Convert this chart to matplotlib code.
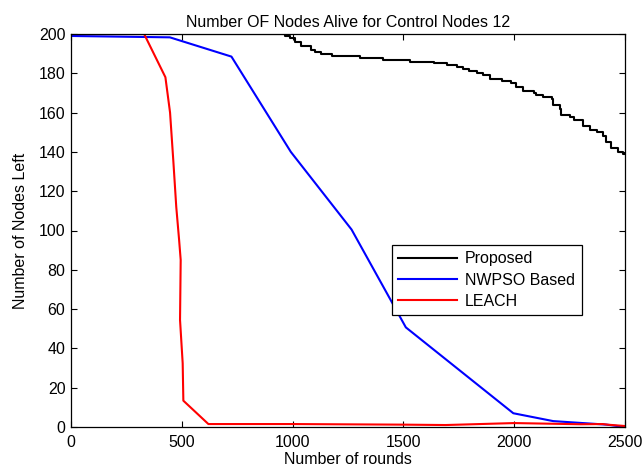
import matplotlib
matplotlib.use("Agg")
import matplotlib.pyplot as plt

plt.rcParams['font.family'] = ['Liberation Sans', 'DejaVu Sans']

# Proposed (staircase)
prop_x = [0, 965, 990, 1010, 1040, 1085, 1100, 1130, 1180, 1305, 1410, 1530, 1640, 1695,
          1740, 1770, 1795, 1830, 1860, 1890, 1945, 1985, 2010, 2040, 2090, 2100, 2130,
          2170, 2175, 2205, 2212, 2250, 2270, 2310, 2340, 2375, 2400, 2415, 2435, 2470,
          2490, 2500]
prop_y = [200, 199, 198, 196, 194, 192, 191, 190, 189, 188, 187, 186, 185, 184,
          183, 182, 181, 180, 179, 177, 176, 175, 173, 171, 170, 169, 168,
          167, 164, 162, 159, 158, 156, 153, 151, 150, 148, 145, 142, 140,
          139, 139]

# NWPSO Based
nw_x = [0, 446, 724, 992, 1266, 1511, 1996, 2176, 2417, 2500]
nw_y = [199, 198.3, 188.5, 140, 100.5, 50.7, 7.0, 3.0, 1.2, 0]

# LEACH
le_x = [0, 330, 426, 447, 462, 475, 488, 495, 492, 504, 507, 620, 1000, 1500, 1690, 2000, 2300, 2400, 2420, 2500]
le_y = [200, 200, 178, 160, 135, 112, 95, 85, 54.5, 32.4, 13.4, 1.5, 1.5, 1.2, 1.0, 2.0, 1.4, 1.5, 1.2, 0.5]

labels = ['Proposed', 'NWPSO Based', 'LEACH']
xticks = [0, 500, 1000, 1500, 2000, 2500]
yticks = list(range(0, 201, 20))

fig = plt.figure(figsize=(6.42, 4.68), dpi=100)
ax = fig.add_axes([71/642, 1 - 427/468, (625 - 71)/642, (427 - 34)/468])

ax.plot(prop_x, prop_y, color='black', lw=1.5, drawstyle='steps-post', label=labels[0])
ax.plot(nw_x, nw_y, color='#0000ff', lw=1.5, label=labels[1])
ax.plot(le_x, le_y, color='#ff0000', lw=1.5, label=labels[2])

ax.set_xlim(0, 2500)
ax.set_ylim(0, 200)
ax.set_xticks(xticks)
ax.set_yticks(yticks)
fs = 11.5
ax.tick_params(direction='in', length=4, width=0.8, top=True, right=True,
               labelsize=fs, colors='black')
ax.tick_params(axis='x', pad=6)
ax.tick_params(axis='y', pad=4)
for s in ax.spines.values():
    s.set_linewidth(0.9)
    s.set_color('black')

ax.set_title('Number OF Nodes Alive for Control Nodes 12', fontsize=fs, pad=5)
ax.set_xlabel('Number of rounds', fontsize=fs, labelpad=1)
ax.set_ylabel('Number of Nodes Left', fontsize=fs, labelpad=8)

leg = ax.legend(loc='lower left', bbox_to_anchor=(0.579, 0.285), borderaxespad=0,
                fontsize=fs, fancybox=False, framealpha=1, edgecolor='black',
                handlelength=3.7, handletextpad=0.5, labelspacing=0.38,
                borderpad=0.4)
leg.get_frame().set_linewidth(0.9)

fig.savefig('out.png', dpi=100)
